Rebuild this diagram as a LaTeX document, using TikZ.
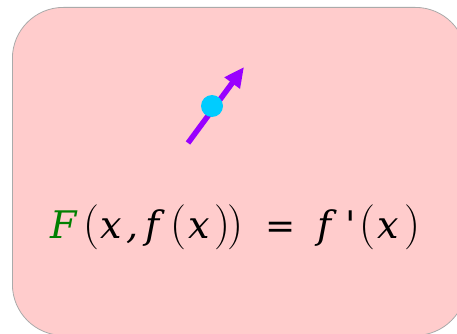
\documentclass[tikz,border=0pt]{standalone}
\usepackage{fontspec}
\newfontfamily\dvs{DejaVu Serif}
\usetikzlibrary{arrows.meta}
\definecolor{boxfill}{HTML}{FFCCCC}
\definecolor{boxline}{HTML}{AAAAAA}
\definecolor{vio}{HTML}{9900FF}
\definecolor{dotcyan}{HTML}{00CCFF}
\definecolor{fgreen}{HTML}{008000}
\begin{document}
\begin{tikzpicture}[x=1pt,y=-1pt,
  glyph/.style={anchor=base west,inner sep=0pt,outer sep=0pt,font=\dvs\itshape\fontsize{38}{42}\selectfont},
  paren/.style={anchor=base west,inner sep=0pt,outer sep=0pt,font=\fontsize{45}{50}\selectfont},
  rel/.style={anchor=base west,inner sep=0pt,outer sep=0pt,font=\dvs\fontsize{36}{40}\selectfont}]
\useasboundingbox (0,0) rectangle (457,334);
\begin{scope}
\clip (0,0) rectangle (457,334);
\node[draw=boxline, fill=boxfill, rounded corners=51pt, minimum width=454pt, minimum height=328pt,
      anchor=north west, line width=0.8pt, inner sep=0pt] (box) at (12,7) {};
\end{scope}
\coordinate (tail) at (188,143);
\coordinate (tip) at (244,67);
\draw[vio, line width=5.5pt, -{Triangle[length=20pt,width=18pt]}] (tail) -- (tip);
\node[circle, fill=dotcyan, minimum size=22pt, inner sep=0pt] (dot) at (212,106) {};
\node[glyph, text=fgreen] (g1) at (50,238) {F};
\node[paren] (g2) at (83,238) {(};
\node[glyph] (g3) at (100,238) {x};
\node[glyph] (g4) at (126,238) {,};
\node[glyph] (g5) at (145,238) {f};
\node[paren] (g6) at (170,238) {(};
\node[glyph] (g7) at (188,238) {x};
\node[paren] (g8) at (214,238) {)};
\node[paren] (g9) at (227,238) {)};
\node[rel] (g10) at (265,238) {=};
\node[glyph] (g11) at (317,238) {f};
\node[glyph] (g12) at (345,238) {'};
\node[paren] (g13) at (359,238) {(};
\node[glyph] (g14) at (377,238) {x};
\node[paren] (g15) at (404,238) {)};
\end{tikzpicture}
\end{document}
